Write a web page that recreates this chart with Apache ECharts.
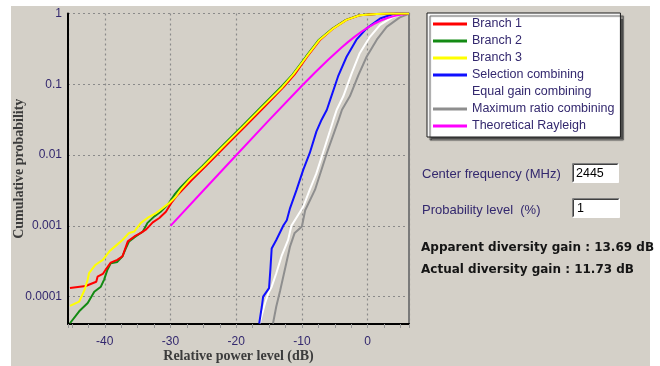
<!DOCTYPE html>
<html>
<head>
<meta charset="utf-8">
<script src="https://cdn.jsdelivr.net/npm/echarts@6/dist/echarts.min.js"></script>
<style>
  html, body { margin: 0; padding: 0; background: #ffffff; }
  #wrap { position: relative; width: 660px; height: 366px; }
  #panel { position: absolute; left: 11px; top: 6px; width: 639px; height: 360px; background: #d4d0c8; }
  #chart { position: absolute; left: 0; top: 0; width: 660px; height: 366px; }
</style>
</head>
<body>
<div id="wrap"><div id="panel"></div><div id="chart"></div></div>
<script>
// Cumulative distributions: [relative power level (dB), cumulative probability]
const branch1 = [
  [-45.3, 1.32e-4], [-42.9, 1.41e-4], [-41.3, 1.62e-4], [-41.1, 1.91e-4], [-40.3, 2.09e-4],
  [-39.8, 2.45e-4], [-39.1, 3.02e-4], [-38.1, 3.31e-4], [-37.3, 3.72e-4], [-36.5, 6.03e-4],
  [-35.5, 7.08e-4], [-34.5, 7.94e-4], [-33.7, 8.91e-4], [-32.7, 1.12e-3], [-31.7, 1.29e-3],
  [-30.7, 1.58e-3], [-29.9, 2.09e-3], [-28.9, 2.75e-3], [-26.7, 4.5e-3], [-24.7, 6.9e-3],
  [-21.7, 1.32e-2], [-18.7, 2.5e-2], [-15.7, 4.8e-2], [-12.8, 9.1e-2], [-11.1, 0.138],
  [-9.2, 0.245], [-7.2, 0.427], [-5.2, 0.617], [-3.2, 0.813], [-1.2, 0.944],
  [1.4, 0.984], [3.4, 1.0], [6.3, 1.0]
];
const branch2 = [
  [-45.3, 4.2e-5], [-43.9, 6.2e-5], [-42.6, 8.1e-5], [-41.6, 1.17e-4], [-40.6, 1.38e-4],
  [-40.1, 1.74e-4], [-39.6, 2.40e-4], [-39.1, 2.95e-4], [-38.1, 3.09e-4], [-37.3, 3.72e-4],
  [-36.8, 4.79e-4], [-36.3, 6.03e-4], [-35.3, 7.08e-4], [-34.2, 8.32e-4], [-33.5, 1.10e-3],
  [-32.5, 1.35e-3], [-31.5, 1.58e-3], [-30.4, 2.00e-3], [-29.4, 2.75e-3], [-28.4, 3.55e-3],
  [-27.2, 4.6e-3], [-25.2, 6.9e-3], [-22.2, 1.32e-2], [-19.2, 2.5e-2], [-16.2, 4.8e-2],
  [-13.2, 9.1e-2], [-11.4, 0.138], [-9.4, 0.245], [-7.4, 0.427], [-5.3, 0.617],
  [-3.3, 0.813], [-1.3, 0.944], [1.3, 0.984], [3.3, 1.0], [6.3, 1.0]
];
const branch3 = [
  [-45.3, 7.4e-5], [-43.9, 8.5e-5], [-43.1, 1.23e-4], [-42.6, 1.74e-4], [-42.4, 2.14e-4],
  [-41.4, 2.82e-4], [-40.3, 3.31e-4], [-39.3, 4.37e-4], [-38.3, 5.25e-4], [-37.3, 6.31e-4],
  [-36.3, 7.94e-4], [-35.5, 8.32e-4], [-34.5, 1.10e-3], [-33.5, 1.29e-3], [-32.2, 1.51e-3],
  [-31.2, 1.78e-3], [-30.2, 2.09e-3], [-29.2, 2.57e-3], [-28.5, 3.2e-3], [-27.0, 4.6e-3],
  [-25.0, 6.9e-3], [-22.0, 1.32e-2], [-19.0, 2.5e-2], [-16.0, 4.8e-2], [-13.0, 9.1e-2],
  [-11.3, 0.138], [-9.3, 0.245], [-7.3, 0.427], [-5.2, 0.617], [-3.2, 0.813],
  [-1.2, 0.944], [1.4, 0.984], [3.4, 1.0], [6.3, 1.0]
];
const selection = [
  [-16.5, 4.17e-5], [-16.1, 7.24e-5], [-15.9, 1.0e-4], [-15.0, 1.32e-4], [-14.8, 2.40e-4],
  [-14.6, 4.79e-4], [-13.9, 6.31e-4], [-12.8, 1.02e-3], [-12.3, 1.20e-3], [-11.8, 1.78e-3],
  [-10.8, 3.24e-3], [-9.8, 6.17e-3], [-8.8, 1.07e-2], [-7.8, 2.14e-2], [-7.0, 3.16e-2],
  [-6.2, 4.37e-2], [-5.7, 6.03e-2], [-4.5, 0.129], [-3.2, 0.245], [-1.7, 0.427],
  [-0.15, 0.617], [1.9, 0.851], [3.9, 0.984], [4.4, 1.0], [6.3, 1.0]
];
const equalGain = [
  [-16.4, 4.2e-5], [-16.3, 4.68e-5], [-15.6, 8.13e-5], [-15.1, 1.12e-4], [-14.6, 1.38e-4],
  [-13.9, 2.14e-4], [-13.1, 3.72e-4], [-12.1, 6.31e-4], [-11.6, 1.0e-3], [-10.6, 1.41e-3],
  [-9.8, 1.86e-3], [-8.8, 3.24e-3], [-7.8, 5.5e-3], [-6.8, 1.07e-2], [-5.7, 2.24e-2],
  [-5.2, 3.16e-2], [-4.7, 4.37e-2], [-3.7, 6.76e-2], [-2.4, 0.145], [-1.2, 0.275],
  [0.35, 0.468], [1.9, 0.692], [3.9, 0.902], [5.4, 0.984], [6.3, 1.0]
];
const maxRatio = [
  [-14.4, 4.17e-5], [-13.9, 7.24e-5], [-13.3, 1.23e-4], [-12.6, 2.40e-4], [-11.8, 5.13e-4],
  [-11.1, 7.94e-4], [-10.0, 9.77e-4], [-9.5, 1.66e-3], [-8.0, 3.24e-3], [-6.2, 1.07e-2],
  [-4.4, 3.16e-2], [-3.9, 4.37e-2], [-2.7, 6.76e-2], [-1.4, 0.135], [-0.15, 0.245],
  [1.4, 0.427], [2.9, 0.646], [4.9, 0.883], [6.2, 0.984], [6.3, 1.0]
];
const rayleigh = [
  [-30, 0.001], [-25, 0.00316], [-20, 0.00995], [-15, 0.0311], [-10, 0.0952],
  [-8, 0.147], [-6, 0.222], [-4, 0.328], [-3, 0.394], [-2, 0.467], [-1, 0.548],
  [0, 0.632], [1, 0.716], [2, 0.795], [3, 0.864], [4, 0.918], [5, 0.958], [6, 0.981]
];

const seriesNames = ['Branch 1', 'Branch 2', 'Branch 3', 'Selection combining',
  'Equal gain combining', 'Maximum ratio combining', 'Theoretical Rayleigh'];
const seriesData = [branch1, branch2, branch3, selection, equalGain, maxRatio, rayleigh];
const seriesColors = ['#ff0000', '#138a13', '#ffff00', '#1010ff', '#ffffff', '#8e8e8e', '#ff00ff'];
// draw order: gray under white so the pair reads as one embossed band
const drawOrder = [5, 4, 3, 6, 1, 0, 2];

const xTitle = 'Relative power level (dB)';
const yTitle = 'Cumulative probability';
const panelLabels = ['Center frequency (MHz)', 'Probability level  (%)'];
const panelValues = ['2445', '1'];
const gainLines = ['Apparent diversity gain : 13.69 dB', 'Actual diversity gain : 11.73 dB'];

const labelColor = '#33286e';
const gridColor = '#8a8a8a';
const uiFont = '"Liberation Sans", Arial, sans-serif';

const chart = echarts.init(document.getElementById('chart'), null, { renderer: 'canvas' });

const series = drawOrder.map(i => ({
  name: seriesNames[i],
  type: 'line',
  data: seriesData[i],
  showSymbol: false,
  symbol: 'none',
  smooth: false,
  animation: false,
  lineStyle: { color: seriesColors[i], width: 2 },
  itemStyle: { color: seriesColors[i] },
  z: 3
}));

function sunkenBox(x, y, w, h) {
  return [
    { type: 'rect', shape: { x: x, y: y, width: w, height: h }, style: { fill: '#ffffff' } },
    { type: 'polyline', shape: { points: [[x, y + h], [x, y], [x + w, y]] }, style: { stroke: '#808080', lineWidth: 1, fill: null } },
    { type: 'polyline', shape: { points: [[x + 1, y + h - 1], [x + 1, y + 1], [x + w - 1, y + 1]] }, style: { stroke: '#404040', lineWidth: 1, fill: null } },
    { type: 'polyline', shape: { points: [[x, y + h], [x + w, y + h], [x + w, y]] }, style: { stroke: '#ffffff', lineWidth: 1, fill: null } }
  ];
}

const graphics = [].concat(
  [
    { type: 'text', x: 422, y: 174, style: { text: panelLabels[0], font: '13px ' + uiFont, fill: labelColor, verticalAlign: 'middle' } },
    { type: 'text', x: 422, y: 210, style: { text: panelLabels[1], font: '13px ' + uiFont, fill: labelColor, verticalAlign: 'middle' } }
  ],
  sunkenBox(572.5, 163.5, 46, 19),
  sunkenBox(572.5, 198.5, 47, 19),
  [
    { type: 'text', x: 576, y: 174, style: { text: panelValues[0], font: '12.5px ' + uiFont, fill: '#000000', verticalAlign: 'middle' } },
    { type: 'text', x: 577, y: 209, style: { text: panelValues[1], font: '12.5px ' + uiFont, fill: '#000000', verticalAlign: 'middle' } },
    { type: 'text', x: 421, y: 248, style: { text: gainLines[0], font: 'bold 12px "DejaVu Sans", Verdana, sans-serif', fill: '#151515', verticalAlign: 'middle' } },
    { type: 'text', x: 421, y: 270, style: { text: gainLines[1], font: 'bold 12px "DejaVu Sans", Verdana, sans-serif', fill: '#151515', verticalAlign: 'middle' } }
  ]
);

chart.setOption({
  backgroundColor: 'transparent',
  animation: false,
  grid: { left: 68, top: 13.5, width: 341, height: 310.5, containLabel: false, outerBoundsMode: 'none' },
  xAxis: {
    type: 'value',
    min: -45.6,
    max: 6.3,
    name: xTitle,
    nameLocation: 'middle',
    nameGap: 25,
    nameMoveOverlap: false,
    nameTextStyle: { fontFamily: '"Liberation Serif", "Times New Roman", serif', fontWeight: 'bold', fontSize: 14, color: '#3c3c3c' },
    axisLine: { onZero: false, lineStyle: { color: '#000000', width: 2 } },
    axisTick: { show: true, length: 4, lineStyle: { color: '#9a9a9a' } },
    minorTick: { show: true, splitNumber: 4, length: 4, lineStyle: { color: '#9a9a9a' } },
    axisLabel: { showMinLabel: false, showMaxLabel: false, margin: 12, fontFamily: uiFont, fontSize: 12, color: labelColor },
    splitLine: { show: true, lineStyle: { color: gridColor, width: 1.2, type: [2, 3] } }
  },
  yAxis: [
    {
      type: 'log',
      logBase: 10,
      min: 4.1e-5,
      max: 1,
      name: yTitle,
      nameLocation: 'middle',
      nameGap: 42,
      nameMoveOverlap: false,
      nameTextStyle: { fontFamily: '"Liberation Serif", "Times New Roman", serif', fontWeight: 'bold', fontSize: 14, color: '#3c3c3c' },
      axisLine: { show: true, onZero: false, lineStyle: { color: '#000000', width: 2 } },
      axisTick: { show: false },
      axisLabel: {
        showMinLabel: false,
        margin: 6,
        fontFamily: uiFont,
        fontSize: 12,
        color: labelColor,
        formatter: v => String(Math.pow(10, Math.round(Math.log10(v))))
      },
      splitLine: { show: true, lineStyle: { color: gridColor, width: 1.2, type: [2, 3] } }
    },
    {
      type: 'log',
      logBase: 10,
      min: 4.1e-5,
      max: 1,
      position: 'right',
      axisLine: { show: true, onZero: false, lineStyle: { color: '#7a7a7a', width: 2 } },
      axisTick: { show: false },
      axisLabel: { show: false },
      splitLine: { show: false }
    }
  ],
  legend: {
    data: seriesNames,
    orient: 'vertical',
    left: 427,
    top: 13,
    icon: 'rect',
    itemWidth: 34,
    itemHeight: 3,
    itemGap: 3,
    selectedMode: false,
    padding: [4, 6, 4, 6],
    backgroundColor: '#ffffff',
    borderColor: '#1a1a1a',
    borderWidth: 1,
    shadowColor: 'rgba(70,70,70,0.95)',
    shadowBlur: 1,
    shadowOffsetX: 3,
    shadowOffsetY: 3,
    textStyle: { fontFamily: uiFont, fontSize: 12.5, lineHeight: 14, color: labelColor }
  },
  graphic: graphics,
  series: series
});
</script>
</body>
</html>
